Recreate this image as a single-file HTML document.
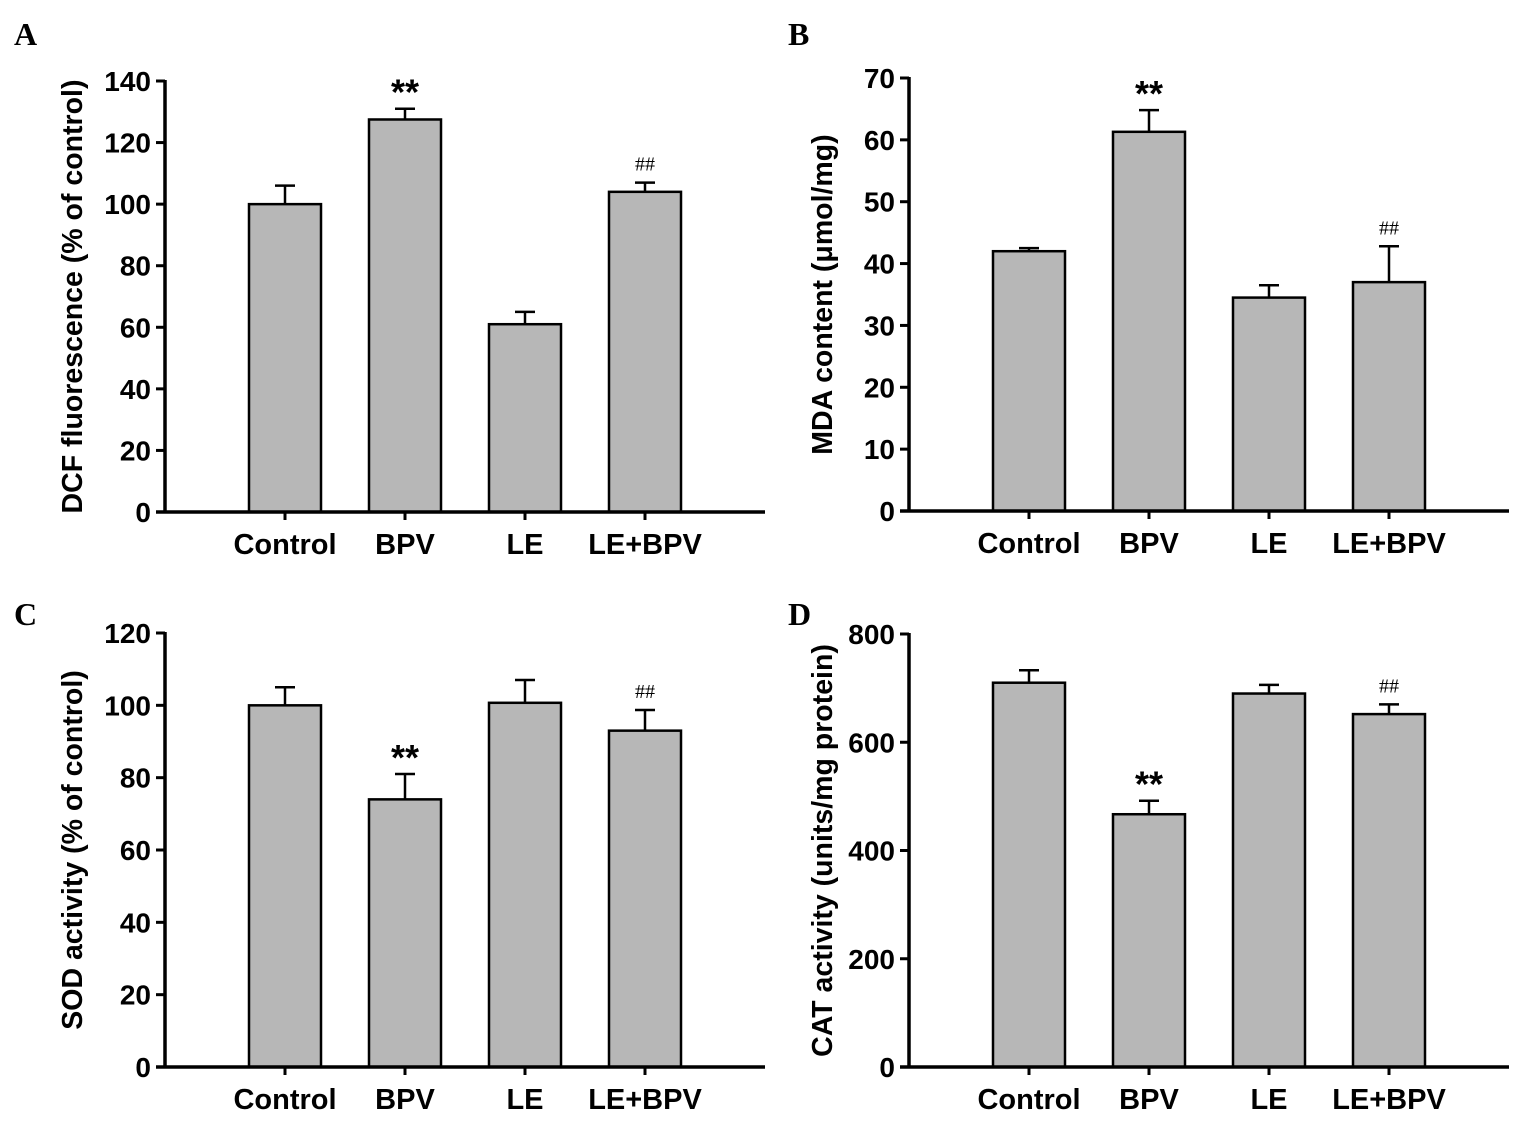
<!DOCTYPE html>
<html><head><meta charset="utf-8"><style>
body{margin:0;background:#fff;}
svg text{font-family:"Liberation Sans",Arial,sans-serif;font-weight:bold;fill:#000;}
</style></head><body>
<svg id="fig" width="1527" height="1128" viewBox="0 0 1527 1128" xmlns="http://www.w3.org/2000/svg"></svg>
<script>
const categories=["Control","BPV","LE","LE+BPV"];
const valsA=[100,127.5,61,104];
const errA=[6,3.5,4,3];
const valsB=[42,61.3,34.5,37];
const errB=[0.5,3.5,2,5.8];
const valsC=[100,74,100.7,93];
const errC=[5,7,6.3,5.7];
const valsD=[710,467,690,652];
const errD=[23,25,16,18];
const marksA=["","**","","##"];
const marksB=["","**","","##"];
const marksC=["","**","","##"];
const marksD=["","**","","##"];
const ticksA=[0,20,40,60,80,100,120,140];
const ticksB=[0,10,20,30,40,50,60,70];
const ticksC=[0,20,40,60,80,100,120];
const ticksD=[0,200,400,600,800];
const NS="http://www.w3.org/2000/svg";
const svg=document.getElementById('fig');
function mk(tag,attrs,parent,txt){const e=document.createElementNS(NS,tag);for(const k in attrs)e.setAttribute(k,attrs[k]);if(txt!==undefined)e.textContent=txt;(parent||svg).appendChild(e);return e;}
function panel(id,letter,lx,ly,ax,y0,yTop,ticks,vals,errs,marks,title,titleX){
  const g=mk('g',{});
  
  
  const max=ticks[ticks.length-1];
  const y=v=>y0-(v/max)*(y0-yTop);
  const xc=i=>ax+120+i*120;
  const L=mk('text',{x:lx,y:ly,'font-size':32,style:'font-family:"Liberation Serif",serif'},g,letter);
  
  
  vals.forEach((v,i)=>{
    const cx=xc(i);
    const e=mk('line',{x1:cx,x2:cx,y1:y(v),y2:y(v+errs[i]),stroke:'#000','stroke-width':2.5},g);
    
    
    const c=mk('line',{x1:cx-10,x2:cx+10,y1:y(v+errs[i]),y2:y(v+errs[i]),stroke:'#000','stroke-width':2.5},g);
    
    
    const r=mk('rect',{x:cx-36,y:y(v),width:72,height:y0-y(v),fill:'#b7b7b7',stroke:'#000','stroke-width':2.5},g);
    
    
    if(marks[i]){
      const isStar=marks[i]==='**';
      const t=mk('text',{x:cx,y:y(v+errs[i])-(isStar?4:12),'text-anchor':'middle','font-size':isStar?36:20,style:isStar?'':'font-family:"Liberation Serif",serif;font-weight:normal'},g,marks[i]);
      
      
    }
    const tk=mk('line',{x1:cx,x2:cx,y1:y0,y2:y0+8,stroke:'#000','stroke-width':3},g);
    
    
    const lb=mk('text',{x:cx,y:y0+42,'text-anchor':'middle','font-size':29},g,categories[i]);
    
    
  });
  const ya=mk('line',{x1:ax,x2:ax,y1:yTop-1,y2:y0+1.5,stroke:'#000','stroke-width':3.5},g);
  
  
  const xa=mk('line',{x1:ax-9,x2:ax+600,y1:y0,y2:y0,stroke:'#000','stroke-width':3.5},g);
  
  
  ticks.forEach(t=>{
    const l=mk('line',{x1:ax-9,x2:ax,y1:y(t),y2:y(t),stroke:'#000','stroke-width':3},g);
    
    
    const tl=mk('text',{x:ax-14,y:y(t)+10,'text-anchor':'end','font-size':28},g,String(t));
    
    
  });
  const ty=(y0+yTop)/2;
  const tt=mk('text',{x:titleX,y:ty,'text-anchor':'middle','font-size':28.5,transform:`rotate(-90 ${titleX} ${ty})`},g,title);
  
  
}
panel('a','A',14,45,165,512,81,ticksA,valsA,errA,marksA,'DCF fluorescence (% of control)',82);
panel('b','B',788,45,909,511,78,ticksB,valsB,errB,marksB,'MDA content (μmol/mg)',832);
panel('c','C',14,625,165,1067,633,ticksC,valsC,errC,marksC,'SOD activity (% of control)',82);
panel('d','D',788,625,909,1067,634,ticksD,valsD,errD,marksD,'CAT activity (units/mg protein)',832);
</script>
</body></html>
